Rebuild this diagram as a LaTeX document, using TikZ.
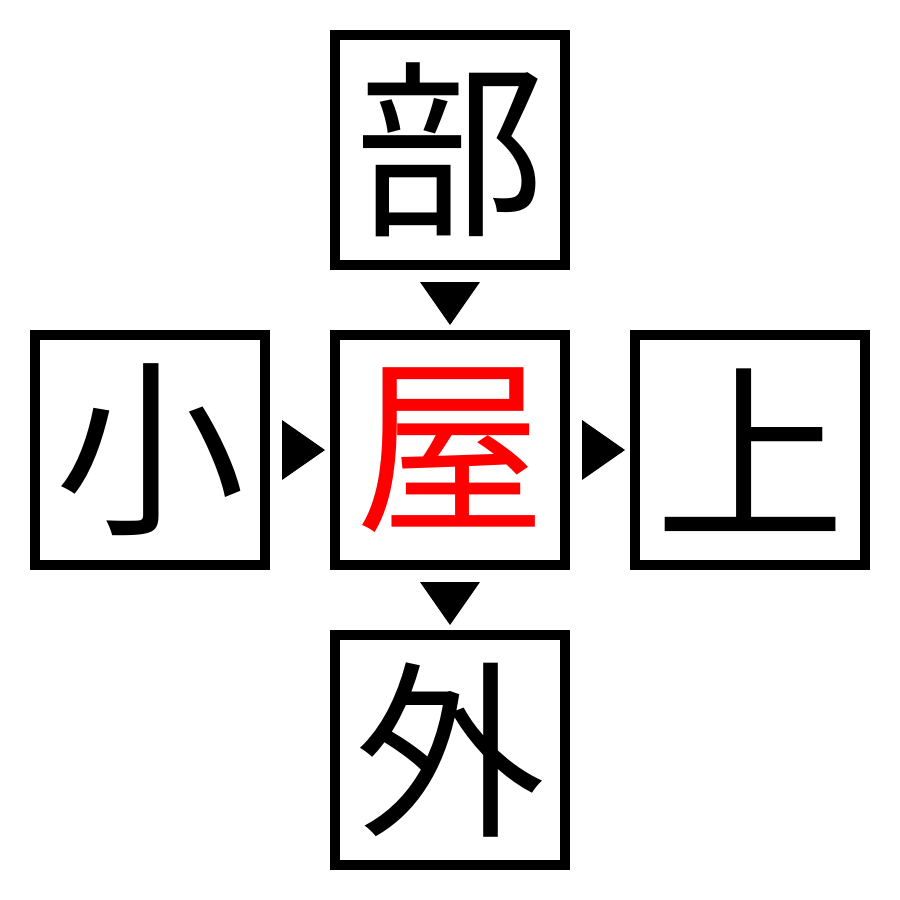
\documentclass[tikz,border=0pt]{standalone}
\usepackage{fontspec}
\newfontfamily\cjk{Noto Sans CJK JP}
\begin{document}
\begin{tikzpicture}[x=0.01cm,y=-0.01cm,
  kbox/.style={draw=black,line width=0.1cm,minimum size=2.3cm,inner sep=0pt,outer sep=0pt,
    font=\cjk\fontsize{54pt}{54pt}\selectfont},
  tri/.style={fill=black}]
\useasboundingbox (0,0) rectangle (900,900);
\node[kbox] (top) at (450,150) {部};
\node[kbox] (left) at (150,450) {小};
\node[kbox,text=red] (mid) at (450,450) {屋};
\node[kbox] (right) at (750,450) {上};
\node[kbox] (bot) at (450,750) {外};
% arrowheads
\fill[tri] (420,282) -- (480,282) -- (450,325) -- cycle;
\fill[tri] (282,420) -- (282,480) -- (325,450) -- cycle;
\fill[tri] (582,420) -- (582,480) -- (625,450) -- cycle;
\fill[tri] (420,582) -- (480,582) -- (450,625) -- cycle;
\end{tikzpicture}
\end{document}
